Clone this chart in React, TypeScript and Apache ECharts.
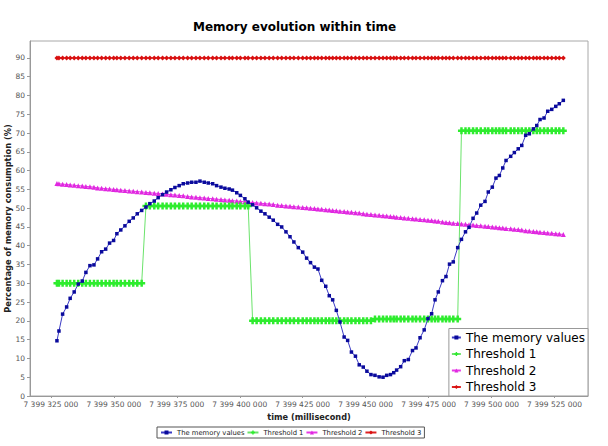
import React, { useEffect, useRef } from 'react';
import * as echarts from 'echarts';

const seriesNames = ['The memory values', 'Threshold 1', 'Threshold 2', 'Threshold 3'];

const times = [
  7399327400, 7399328200, 7399329650, 7399331250, 7399332650, 7399334250, 7399335850, 7399337450, 7399338900, 7399340500,
  7399342100, 7399343550, 7399345150, 7399346750, 7399348300, 7399349900, 7399351200, 7399352750, 7399354400, 7399356100,
  7399357700, 7399359300, 7399361050, 7399362750, 7399364300, 7399366050, 7399367600, 7399369350, 7399370950, 7399372650,
  7399374250, 7399375950, 7399377550, 7399379300, 7399380900, 7399382600, 7399384200, 7399385900, 7399387500, 7399389250,
  7399390800, 7399392550, 7399394100, 7399395800, 7399397100, 7399398800, 7399400250, 7399402050, 7399403350, 7399405100,
  7399406700, 7399408400, 7399410000, 7399411700, 7399413300, 7399415050, 7399416650, 7399418350, 7399419950, 7399421500,
  7399423250, 7399425000, 7399426550, 7399428100, 7399429650, 7399431050, 7399432550, 7399434150, 7399435550, 7399436900,
  7399438350, 7399439800, 7399441450, 7399442850, 7399444350, 7399445950, 7399447450, 7399449050, 7399450500, 7399452100,
  7399453700, 7399455350, 7399456900, 7399458350, 7399459850, 7399461150, 7399462300, 7399463900, 7399465350, 7399466950,
  7399468600, 7399470000, 7399471600, 7399473250, 7399474750, 7399476200, 7399477550, 7399478850, 7399480500, 7399481900,
  7399483300, 7399484800, 7399486550, 7399488050, 7399489650, 7399491050, 7399492650, 7399494100, 7399495700, 7399497400,
  7399498700, 7399500300, 7399501750, 7399503100, 7399504450, 7399505750, 7399507600, 7399509050, 7399510600, 7399512000,
  7399513550, 7399515000, 7399516600, 7399517950, 7399519250, 7399520850, 7399522300, 7399523900, 7399525500, 7399526900,
  7399528500,
];

const memoryValues = [
  14.7, 17.3, 21.8, 23.7, 26.0, 27.7, 29.8, 30.6, 32.9, 34.7,
  34.9, 36.5, 38.4, 39.1, 40.7, 41.4, 43.2, 44.2, 45.3, 46.5,
  47.4, 48.5, 49.4, 50.3, 51.2, 51.9, 52.8, 53.6, 54.3, 54.9,
  55.5, 56.0, 56.5, 56.7, 56.9, 56.9, 57.2, 56.9, 56.7, 56.5,
  56.0, 55.6, 55.3, 55.1, 54.8, 54.1, 53.4, 52.5, 51.6, 50.9,
  50.1, 49.2, 48.5, 47.6, 46.8, 45.7, 45.0, 43.7, 42.4, 41.0,
  39.5, 38.3, 36.7, 35.5, 34.3, 33.8, 30.8, 29.2, 26.7, 25.6,
  22.8, 19.7, 15.7, 14.8, 11.7, 10.6, 8.3, 7.7, 6.6, 5.7,
  5.5, 5.1, 5.0, 5.5, 5.7, 6.2, 6.9, 7.8, 9.4, 9.7,
  12.1, 12.8, 15.5, 17.6, 20.6, 21.9, 25.6, 27.7, 30.7, 31.8,
  35.1, 35.7, 39.5, 41.7, 43.7, 44.9, 47.3, 48.7, 50.8, 51.8,
  54.3, 55.6, 58.0, 58.7, 60.7, 62.7, 63.8, 64.8, 65.8, 66.7,
  69.4, 69.8, 71.1, 72.0, 73.6, 74.0, 75.8, 76.3, 77.1, 77.8,
  78.7,
];

const threshold1 = [
  30, 30, 30, 30, 30, 30, 30, 30, 30, 30,
  30, 30, 30, 30, 30, 30, 30, 30, 30, 30,
  30, 30, 30, 50.6, 50.6, 50.6, 50.6, 50.6, 50.6, 50.6,
  50.6, 50.6, 50.6, 50.6, 50.6, 50.6, 50.6, 50.6, 50.6, 50.6,
  50.6, 50.6, 50.6, 50.6, 50.6, 50.6, 50.6, 50.6, 50.6, 20,
  20, 20, 20, 20, 20, 20, 20, 20, 20, 20,
  20, 20, 20, 20, 20, 20, 20, 20, 20, 20,
  20, 20, 20, 20, 20, 20, 20, 20, 20, 20,
  20.5, 20.5, 20.5, 20.5, 20.5, 20.5, 20.5, 20.5, 20.5, 20.5,
  20.5, 20.5, 20.5, 20.5, 20.5, 20.5, 20.5, 20.5, 20.5, 20.5,
  20.5, 20.5, 20.5, 70.6, 70.6, 70.6, 70.6, 70.6, 70.6, 70.6,
  70.6, 70.6, 70.6, 70.6, 70.6, 70.6, 70.6, 70.6, 70.6, 70.6,
  70.6, 70.6, 70.6, 70.6, 70.6, 70.6, 70.6, 70.6, 70.6, 70.6,
  70.6,
];

const threshold2 = [
  56.6, 56.5, 56.4, 56.3, 56.2, 56.1, 56.0, 55.9, 55.8, 55.7,
  55.6, 55.4, 55.3, 55.2, 55.1, 55.0, 54.9, 54.8, 54.7, 54.6,
  54.5, 54.4, 54.3, 54.2, 54.1, 54.0, 53.9, 53.8, 53.7, 53.6,
  53.5, 53.4, 53.3, 53.1, 53.0, 52.9, 52.8, 52.7, 52.6, 52.5,
  52.4, 52.3, 52.2, 52.1, 52.0, 51.9, 51.8, 51.7, 51.6, 51.5,
  51.4, 51.3, 51.2, 51.1, 51.0, 50.8, 50.7, 50.6, 50.5, 50.4,
  50.3, 50.2, 50.1, 50.0, 49.9, 49.8, 49.7, 49.6, 49.5, 49.4,
  49.3, 49.2, 49.1, 49.0, 48.9, 48.8, 48.7, 48.5, 48.4, 48.3,
  48.2, 48.1, 48.0, 47.9, 47.8, 47.7, 47.6, 47.5, 47.4, 47.3,
  47.2, 47.1, 47.0, 46.9, 46.8, 46.7, 46.6, 46.5, 46.3, 46.2,
  46.1, 46.0, 45.9, 45.8, 45.7, 45.6, 45.5, 45.4, 45.3, 45.2,
  45.1, 45.0, 44.9, 44.8, 44.7, 44.6, 44.5, 44.4, 44.3, 44.2,
  44.0, 43.9, 43.8, 43.7, 43.6, 43.5, 43.4, 43.3, 43.2, 43.1,
  43.0,
];

const threshold3 = [
  90, 90, 90, 90, 90, 90, 90, 90, 90, 90,
  90, 90, 90, 90, 90, 90, 90, 90, 90, 90,
  90, 90, 90, 90, 90, 90, 90, 90, 90, 90,
  90, 90, 90, 90, 90, 90, 90, 90, 90, 90,
  90, 90, 90, 90, 90, 90, 90, 90, 90, 90,
  90, 90, 90, 90, 90, 90, 90, 90, 90, 90,
  90, 90, 90, 90, 90, 90, 90, 90, 90, 90,
  90, 90, 90, 90, 90, 90, 90, 90, 90, 90,
  90, 90, 90, 90, 90, 90, 90, 90, 90, 90,
  90, 90, 90, 90, 90, 90, 90, 90, 90, 90,
  90, 90, 90, 90, 90, 90, 90, 90, 90, 90,
  90, 90, 90, 90, 90, 90, 90, 90, 90, 90,
  90, 90, 90, 90, 90, 90, 90, 90, 90, 90,
  90,
];

const xTicks = [7399325000, 7399350000, 7399375000, 7399400000, 7399425000, 7399450000, 7399475000, 7399500000, 7399525000];
const yTicks = [0, 5, 10, 15, 20, 25, 30, 35, 40, 45, 50, 55, 60, 65, 70, 75, 80, 85, 90];

const FONT = 'DejaVu Sans';
const PLUS = 'path://M2.25,0H4.75V2.25H7V4.75H4.75V7H2.25V4.75H0V2.25H2.25Z';

function pairs(vals: number[]) {
  return times.map((t, i) => [t, vals[i]]);
}

function fmtX(v: number) {
  return String(Math.round(v)).replace(/\B(?=(\d{3})+(?!\d))/g, ' ');
}

export default function App() {
  const ref = useRef<HTMLDivElement>(null);
  useEffect(() => {
    if (!ref.current) return;
    const chart = echarts.init(ref.current, null, { renderer: 'svg' });
    chart.setOption({
      animation: false,
      backgroundColor: '#ffffff',
      title: {
        text: 'Memory evolution within time',
        left: 193,
        top: 21,
        padding: 0,
        textStyle: { fontFamily: FONT, fontSize: 12, fontWeight: 'bold', color: '#000' },
      },
      grid: {
        left: 30, right: 20, top: 41, bottom: 50,
        containLabel: false,
        outerBoundsMode: 'none',
        show: true, borderColor: '#a8a8a8', borderWidth: 1, backgroundColor: '#fff',
      },
      xAxis: {
        type: 'value',
        min: 7399316700,
        max: 7399538300,
        name: 'time (millisecond)',
        nameLocation: 'middle',
        nameGap: 17,
        nameMoveOverlap: false,
        nameTextStyle: { fontFamily: FONT, fontSize: 8.2, fontWeight: 'bold', color: '#222' },
        axisLine: { show: true, lineStyle: { color: '#999' } },
        axisTick: { show: true, length: 2, customValues: xTicks, lineStyle: { color: '#999' } },
        axisLabel: { customValues: xTicks, formatter: fmtX, fontFamily: FONT, fontSize: 7.5, color: '#555', margin: 4 },
        splitLine: { show: false },
      },
      yAxis: {
        type: 'value',
        min: 0,
        max: 94.5,
        name: 'Percentage of memory consumption (%)',
        nameLocation: 'middle',
        nameRotate: 90,
        nameGap: 18.5,
        nameMoveOverlap: false,
        nameTextStyle: { fontFamily: FONT, fontSize: 8.3, fontWeight: 'bold', color: '#222' },
        axisLine: { show: true, lineStyle: { color: '#999' } },
        axisTick: { show: true, length: 3, customValues: yTicks, lineStyle: { color: '#999' } },
        axisLabel: { customValues: yTicks, fontFamily: FONT, fontSize: 7.5, color: '#555', margin: 5 },
        splitLine: { show: false },
      },
      legend: [
        {
          data: seriesNames,
          orient: 'vertical',
          right: 20,
          bottom: 50,
          itemWidth: 9,
          itemHeight: 5,
          itemGap: 4.5,
          padding: [3, 3, 3, 2],
          selectedMode: false,
          backgroundColor: '#fff',
          borderColor: '#999',
          borderWidth: 1,
          textStyle: { fontFamily: FONT, fontSize: 12, color: '#000' },
        },
        {
          data: seriesNames,
          orient: 'horizontal',
          left: 157,
          top: 427,
          itemWidth: 11,
          itemHeight: 5,
          itemGap: 2,
          padding: [2, 3],
          selectedMode: false,
          borderColor: '#555',
          borderWidth: 1,
          textStyle: { fontFamily: FONT, fontSize: 6.8, color: '#222' },
        },
      ],
      series: [
        {
          name: seriesNames[0],
          type: 'line',
          data: pairs(memoryValues),
          symbol: 'rect',
          symbolSize: 3.5,
          showAllSymbol: true,
          lineStyle: { color: '#3a3ac4', width: 1 },
          itemStyle: { color: '#0a0a9c' },
          z: 5,
        },
        {
          name: seriesNames[1],
          type: 'line',
          data: pairs(threshold1),
          symbol: PLUS,
          symbolSize: 7,
          showAllSymbol: true,
          lineStyle: { color: '#6be36b', width: 1 },
          itemStyle: { color: '#2eec2e' },
          z: 4,
        },
        {
          name: seriesNames[2],
          type: 'line',
          data: pairs(threshold2),
          symbol: 'triangle',
          symbolSize: 5,
          showAllSymbol: true,
          lineStyle: { color: '#e63ae6', width: 1 },
          itemStyle: { color: '#e028e0' },
          z: 3,
        },
        {
          name: seriesNames[3],
          type: 'line',
          data: pairs(threshold3),
          symbol: 'diamond',
          symbolSize: 5,
          showAllSymbol: true,
          lineStyle: { color: '#dd2222', width: 1 },
          itemStyle: { color: '#d81010' },
          z: 2,
        },
      ],
    });
    return () => chart.dispose();
  }, []);
  return <div ref={ref} style={{ position: 'fixed', left: 0, top: 0, width: 608, height: 446 }} />;
}
